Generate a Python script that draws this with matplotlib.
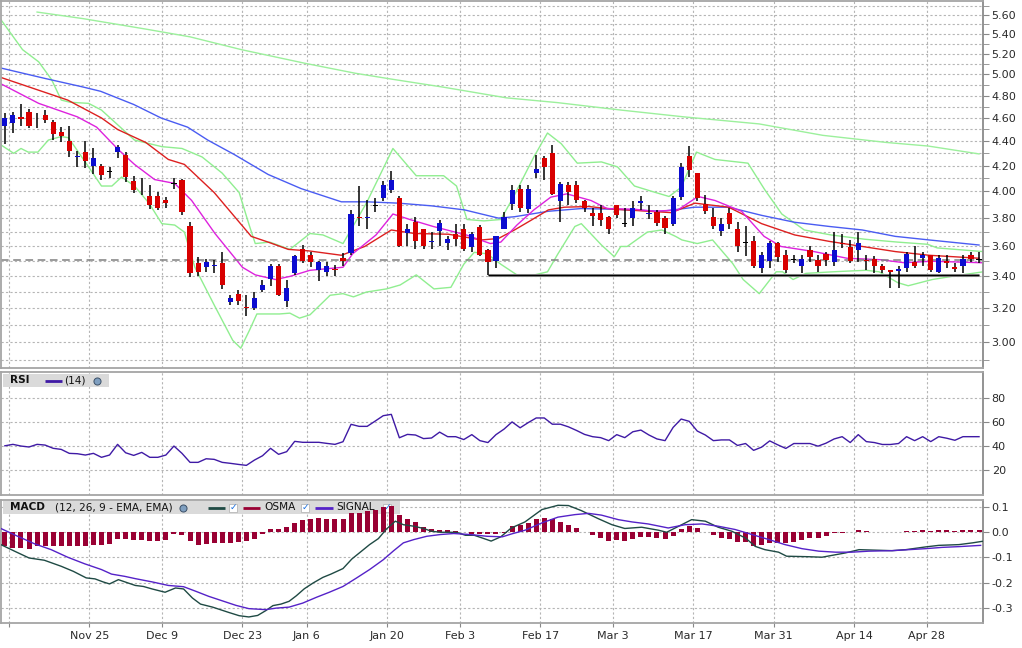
import numpy as np
import pandas as pd
import matplotlib
matplotlib.use('Agg')
import matplotlib.pyplot as plt
from matplotlib.patches import Rectangle
from matplotlib.ticker import FixedLocator, NullFormatter

# ---------------- data ----------------
holidays = ['2013-11-28', '2013-12-25', '2014-01-01', '2014-01-20', '2014-02-17', '2014-04-18']
grid_dates = ['2013-11-11', '2013-11-25', '2013-12-09', '2013-12-23', '2014-01-06', '2014-01-20',
              '2014-02-03', '2014-02-17', '2014-03-03', '2014-03-17', '2014-03-31', '2014-04-14',
              '2014-04-28']
grid_labels = ['', 'Nov 25', 'Dec 9', 'Dec 23', 'Jan 6', 'Jan 20', 'Feb 3', 'Feb 17', 'Mar 3',
               'Mar 17', 'Mar 31', 'Apr 14', 'Apr 28']

opens = [4.53, 4.555, 4.61, 4.655, 4.60, 4.625, 4.565, 4.475, 4.40, 4.27,
         4.31, 4.20, 4.20, 4.155, 4.31, 4.29, 4.08, 4.04, 3.96, 3.96,
         3.93, 4.06, 4.09, 3.74, 3.49, 3.46, 3.47, 3.49, 3.235, 3.29,
         3.21, 3.20, 3.31, 3.385, 3.47, 3.245, 3.425, 3.58, 3.54, 3.44,
         3.43, 3.45, 3.52, 3.555, 3.81, 3.80, 3.89, 3.95, 4.01, 3.95,
         3.695, 3.77, 3.72, 3.63, 3.705, 3.625, 3.69, 3.725, 3.595, 3.735,
         3.575, 3.50, 3.725, 3.905, 4.02, 3.87, 4.14, 4.26, 4.305, 3.925,
         4.045, 4.045, 3.925, 3.84, 3.835, 3.81, 3.895, 3.76, 3.80, 3.91,
         3.83, 3.845, 3.80, 3.755, 3.955, 4.275, 4.14, 3.905, 3.81, 3.71,
         3.84, 3.72, 3.625, 3.64, 3.455, 3.50, 3.625, 3.545, 3.51, 3.465,
         3.575, 3.51, 3.55, 3.495, 3.625, 3.595, 3.575, 3.51, 3.515, 3.47,
         3.44, 3.435, 3.455, 3.495, 3.52, 3.54, 3.43, 3.50, 3.46, 3.465,
         3.545, 3.51]
highs = [4.64, 4.655, 4.72, 4.68, 4.64, 4.67, 4.585, 4.52, 4.53, 4.32,
         4.40, 4.34, 4.21, 4.19, 4.37, 4.31, 4.12, 4.10, 4.05, 3.995,
         3.955, 4.10, 4.095, 3.77, 3.53, 3.515, 3.51, 3.56, 3.28, 3.315,
         3.28, 3.30, 3.38, 3.48, 3.48, 3.38, 3.54, 3.61, 3.56, 3.50,
         3.495, 3.475, 3.555, 3.86, 4.04, 3.935, 3.95, 4.08, 4.16, 3.96,
         3.76, 3.81, 3.725, 3.70, 3.785, 3.67, 3.755, 3.755, 3.70, 3.75,
         3.58, 3.675, 3.845, 4.05, 4.05, 4.05, 4.285, 4.28, 4.37, 4.07,
         4.07, 4.08, 3.93, 3.875, 3.90, 3.815, 3.90, 3.875, 3.925, 3.96,
         3.90, 3.86, 3.815, 3.96, 4.225, 4.36, 4.145, 3.97, 3.875, 3.80,
         3.875, 3.77, 3.745, 3.675, 3.56, 3.635, 3.63, 3.575, 3.54, 3.54,
         3.60, 3.545, 3.56, 3.70, 3.69, 3.645, 3.70, 3.54, 3.535, 3.48,
         3.445, 3.47, 3.565, 3.60, 3.565, 3.545, 3.545, 3.54, 3.49, 3.54,
         3.56, 3.56]
lows = [4.38, 4.47, 4.53, 4.51, 4.51, 4.555, 4.41, 4.395, 4.27, 4.19,
        4.18, 4.135, 4.085, 4.10, 4.26, 4.07, 3.99, 3.97, 3.87, 3.86,
        3.875, 4.02, 3.82, 3.395, 3.40, 3.43, 3.42, 3.32, 3.22, 3.22,
        3.15, 3.19, 3.30, 3.34, 3.275, 3.21, 3.41, 3.49, 3.46, 3.37,
        3.40, 3.40, 3.47, 3.545, 3.745, 3.72, 3.845, 3.925, 3.99, 3.595,
        3.605, 3.58, 3.58, 3.58, 3.60, 3.575, 3.60, 3.57, 3.56, 3.535,
        3.41, 3.455, 3.725, 3.86, 3.845, 3.835, 4.105, 4.09, 3.97, 3.775,
        3.895, 3.91, 3.845, 3.74, 3.74, 3.69, 3.80, 3.735, 3.745, 3.86,
        3.795, 3.745, 3.69, 3.745, 3.93, 4.11, 3.925, 3.83, 3.72, 3.675,
        3.72, 3.56, 3.535, 3.455, 3.42, 3.455, 3.495, 3.42, 3.49, 3.425,
        3.495, 3.43, 3.47, 3.47, 3.59, 3.49, 3.495, 3.445, 3.425, 3.425,
        3.325, 3.325, 3.43, 3.455, 3.47, 3.43, 3.425, 3.455, 3.43, 3.425,
        3.495, 3.49]
closes = [4.60, 4.625, 4.59, 4.53, 4.60, 4.585, 4.465, 4.445, 4.32, 4.28,
          4.235, 4.26, 4.125, 4.155, 4.35, 4.11, 4.01, 4.04, 3.90, 3.875,
          3.91, 4.06, 3.845, 3.42, 3.43, 3.495, 3.475, 3.345, 3.265, 3.245,
          3.20, 3.265, 3.345, 3.47, 3.28, 3.325, 3.535, 3.50, 3.495, 3.495,
          3.47, 3.44, 3.50, 3.83, 3.80, 3.81, 3.89, 4.05, 4.09, 3.605,
          3.725, 3.635, 3.605, 3.64, 3.765, 3.65, 3.655, 3.58, 3.69, 3.54,
          3.495, 3.67, 3.81, 4.01, 3.875, 4.02, 4.175, 4.19, 3.98, 4.055,
          3.995, 3.93, 3.875, 3.815, 3.79, 3.72, 3.82, 3.76, 3.875, 3.925,
          3.84, 3.765, 3.73, 3.95, 4.19, 4.165, 3.95, 3.85, 3.745, 3.755,
          3.755, 3.605, 3.625, 3.465, 3.54, 3.625, 3.525, 3.44, 3.51, 3.515,
          3.525, 3.47, 3.51, 3.575, 3.615, 3.50, 3.625, 3.50, 3.47, 3.44,
          3.43, 3.45, 3.55, 3.47, 3.545, 3.44, 3.52, 3.49, 3.45, 3.515,
          3.515, 3.51]

# moving averages / bands: (position in trading days, price)
ma_blue = [(-0.5, 5.06), (5, 4.96), (9.7, 4.88), (11.9, 4.84), (16, 4.72), (19.4, 4.60),
           (22.7, 4.52), (25.2, 4.41), (28.5, 4.29), (32.7, 4.13), (36.8, 4.02), (41.8, 3.92),
           (45, 3.92), (48.9, 3.91), (53, 3.89), (57.1, 3.86), (61.3, 3.80), (63.3, 3.81),
           (67.5, 3.85), (71.6, 3.87), (75.7, 3.865), (81.6, 3.85), (85.7, 3.88), (89.9, 3.88),
           (94, 3.82), (98.1, 3.77), (102.4, 3.74), (106.5, 3.715), (110.6, 3.67),
           (114.8, 3.645), (121, 3.61)]
ma_red = [(-0.5, 4.97), (4.2, 4.85), (7.8, 4.76), (12, 4.60), (14, 4.50), (17.5, 4.39),
          (20.3, 4.25), (22.3, 4.21), (26.0, 3.99), (30.6, 3.67), (32.7, 3.63), (35.2, 3.58),
          (37.7, 3.57), (41.8, 3.54), (44.7, 3.60), (48.0, 3.715), (50.9, 3.69), (55.1, 3.685),
          (59.2, 3.645), (61.3, 3.655), (63.3, 3.715), (65.4, 3.786), (67.5, 3.86),
          (69.5, 3.88), (72.5, 3.885), (75.7, 3.865), (80.0, 3.85), (82.8, 3.84), (85.7, 3.91),
          (89.9, 3.88), (94.0, 3.76), (98.1, 3.68), (102.4, 3.635), (106.5, 3.60),
          (110.6, 3.565), (114.8, 3.54), (121, 3.52)]
ma_magenta = [(-0.5, 4.91), (4.2, 4.73), (9, 4.61), (11.4, 4.52), (14.1, 4.33), (16.1, 4.21),
              (18.6, 4.09), (21.1, 4.06), (23.2, 3.93), (26.1, 3.69), (29.5, 3.46), (31.1, 3.41),
              (33.6, 3.38), (35.4, 3.40), (37.9, 3.44), (42, 3.46), (43.2, 3.55), (46.1, 3.68),
              (48.2, 3.83), (50.3, 3.79), (53.2, 3.74), (57.3, 3.68), (60.3, 3.62), (61.6, 3.63),
              (63.6, 3.75), (65.7, 3.86), (67.8, 3.955), (69.8, 3.98), (72.8, 3.93),
              (74.8, 3.87), (78.2, 3.865), (80.7, 3.85), (83.6, 3.86), (86.1, 3.96),
              (88.2, 3.93), (91.5, 3.85), (94.3, 3.67), (96.4, 3.60), (100.5, 3.565),
              (104.6, 3.52), (108.8, 3.51), (111.7, 3.49), (115.1, 3.50), (121.3, 3.49)]
bb_upper = [(-0.5, 5.55), (2.2, 5.24), (4.2, 5.12), (5.8, 4.95), (7, 4.76), (8.1, 4.74),
            (10.4, 4.73), (12, 4.67), (16.1, 4.41), (19.5, 4.355), (22, 4.34), (24.5, 4.27),
            (27, 4.14), (29.1, 3.99), (30.4, 3.74), (31.1, 3.62), (32.9, 3.63), (35.4, 3.58),
            (37.9, 3.69), (39.5, 3.68), (42, 3.62), (44.9, 3.91), (48.2, 4.34), (51.1, 4.12),
            (54.5, 4.12), (56.1, 4.04), (57.4, 3.79), (59.5, 3.78), (61.6, 3.79), (63.2, 3.96),
            (65.7, 4.27), (67.4, 4.47), (69.1, 4.38), (71.1, 4.22), (74.1, 4.23), (76.1, 4.19),
            (78.2, 4.04), (80.3, 4.00), (82.5, 3.96), (84, 4.03), (85.9, 4.31), (88.2, 4.25),
            (92.3, 4.22), (94.4, 4.01), (96.5, 3.83), (99.3, 3.715), (102.6, 3.68),
            (106.8, 3.65), (110.9, 3.63), (114.6, 3.615), (115.8, 3.59), (121.5, 3.565)]
bb_lower = [(-0.5, 4.37), (1.1, 4.30), (2, 4.34), (2.9, 4.31), (4.1, 4.31), (5.4, 4.41),
            (7, 4.44), (7.9, 4.43), (10.4, 4.19), (12, 4.04), (13.3, 4.04), (14.5, 4.11),
            (16.1, 4.04), (17.9, 3.91), (19.5, 3.76), (21.1, 3.75), (22.3, 3.70), (23.6, 3.46),
            (26.1, 3.21), (28.3, 3.01), (29.3, 2.965), (30.4, 3.07), (31.3, 3.165),
            (34.1, 3.165), (35.4, 3.17), (36.6, 3.14), (37.9, 3.16), (40.4, 3.28), (42, 3.29),
            (43.3, 3.27), (44.9, 3.30), (47.4, 3.32), (49.1, 3.345), (51.1, 3.41), (53.3, 3.32),
            (55.4, 3.33), (57, 3.48), (58.3, 3.56), (59.9, 3.55), (61.6, 3.48), (63.6, 3.41),
            (65.8, 3.41), (67.4, 3.43), (68.7, 3.55), (70.8, 3.74), (71.6, 3.76), (74.1, 3.61),
            (75.7, 3.53), (76.5, 3.60), (77.3, 3.60), (79.8, 3.70), (81.6, 3.715), (83.3, 3.67),
            (84.1, 3.645), (86, 3.62), (87.9, 3.645), (90.4, 3.485), (91.7, 3.38), (93.7, 3.29),
            (95.8, 3.43), (96.6, 3.43), (97.9, 3.38), (99.5, 3.42), (102.8, 3.43),
            (104.8, 3.435), (107, 3.44), (108.6, 3.43), (110.9, 3.36), (112.2, 3.34),
            (115.2, 3.38), (117.6, 3.40), (121.5, 3.43)]
ma_long = [(4.0, 5.63), (9.7, 5.56), (17.5, 5.45), (23, 5.37), (29.4, 5.24), (37.2, 5.107),
           (43.5, 5.01), (48.1, 4.953), (54.5, 4.878), (62.3, 4.78), (68.6, 4.737), (76.5, 4.67),
           (84.3, 4.61), (93.7, 4.548), (101.6, 4.45), (109.5, 4.39), (114.7, 4.36), (121, 4.295)]
last_price = 3.51
support_level = 3.41
support_start = 60

rsi = [40.2, 41.4, 40.0, 39.2, 41.4, 40.8, 38.1, 37.2, 33.9, 33.6,
       32.5, 33.9, 30.6, 32.5, 41.4, 34.4, 32.2, 34.7, 30.6, 30.6,
       32.5, 40.0, 33.9, 26.4, 26.4, 29.4, 28.9, 26.4, 25.6, 24.7,
       23.9, 28.3, 31.9, 38.1, 33.1, 35.3, 43.9, 43.1, 43.1, 43.1,
       42.2, 41.4, 43.6, 58.1, 56.4, 56.4, 60.8, 65.3, 66.4, 46.9,
       49.7, 49.2, 46.2, 46.7, 51.6, 47.8, 47.8, 45.4, 49.5, 44.5,
       42.9, 49.5, 54.1, 60.1, 55.2, 59.5, 63.4, 63.4, 58.2, 58.2,
       56.0, 53.0, 49.7, 47.8, 47.0, 44.5, 49.5, 47.0, 51.9, 53.3,
       49.2, 45.9, 44.5, 55.5, 62.5, 60.6, 52.5, 49.2, 44.5, 45.1,
       45.1, 40.5, 42.1, 36.4, 39.1, 44.3, 41.0, 38.0, 42.1, 42.1,
       42.1, 39.9, 42.4, 45.9, 47.8, 42.9, 49.5, 43.7, 42.9, 41.3,
       41.3, 42.1, 47.8, 44.5, 47.8, 43.7, 47.8, 46.5, 44.8, 47.8,
       47.8, 47.8]

osma = [-0.053, -0.062, -0.062, -0.065, -0.053, -0.053, -0.053, -0.053, -0.053, -0.053,
        -0.053, -0.049, -0.049, -0.045, -0.025, -0.025, -0.029, -0.029, -0.033, -0.033,
        -0.029, -0.005, -0.012, -0.036, -0.049, -0.045, -0.042, -0.042, -0.042, -0.040,
        -0.036, -0.025, -0.007, 0.011, 0.011, 0.021, 0.037, 0.050, 0.054, 0.056,
        0.054, 0.054, 0.054, 0.077, 0.077, 0.083, 0.090, 0.099, 0.103, 0.070,
        0.054, 0.040, 0.021, 0.011, 0.008, 0.008, 0.004, 0.001, -0.007, -0.007,
        -0.007, -0.008, -0.002, 0.024, 0.030, 0.037, 0.053, 0.057, 0.053, 0.041,
        0.029, 0.017, 0.001, -0.009, -0.023, -0.033, -0.029, -0.033, -0.025, -0.019,
        -0.019, -0.023, -0.025, -0.013, 0.011, 0.026, 0.017, 0.001, -0.009, -0.023,
        -0.025, -0.038, -0.038, -0.053, -0.049, -0.042, -0.042, -0.042, -0.038, -0.029,
        -0.023, -0.023, -0.013, -0.004, -0.001, 0.001, 0.008, 0.005, 0.001, 0.0,
        0.0, 0.0, 0.005, 0.005, 0.009, 0.005, 0.009, 0.009, 0.005, 0.009,
        0.009, 0.009]
macd_line = [(-0.5, -0.049), (1.2, -0.075), (3, -0.102), (4.9, -0.111), (7, -0.135),
             (8.5, -0.155), (10.1, -0.181), (11.2, -0.185), (12.2, -0.197), (13.0, -0.205),
             (14.1, -0.188), (15.1, -0.199), (16.2, -0.211), (17.2, -0.215), (18.3, -0.225),
             (19.9, -0.238), (21.2, -0.221), (22.2, -0.225), (23.3, -0.261), (24.3, -0.285),
             (25.8, -0.297), (27.8, -0.318), (29.1, -0.331), (30.3, -0.336), (31.4, -0.330),
             (32.4, -0.311), (33.3, -0.291), (34.3, -0.285), (35.3, -0.274), (36.2, -0.252),
             (37.2, -0.224), (38.3, -0.201), (39.5, -0.179), (40.5, -0.166), (42, -0.144),
             (43.1, -0.106), (44.3, -0.075), (45.3, -0.049), (46.4, -0.025), (47.4, 0.013),
             (48.5, 0.044), (49.5, 0.030), (50.8, 0.024), (52, 0.015), (53, 0.004),
             (54.1, 0.0), (55.3, 0.0), (56.2, -0.001), (57.2, -0.012), (58.3, -0.012),
             (59.5, -0.025), (60.4, -0.035), (61.6, -0.018), (62.9, 0.017), (64.6, 0.041),
             (66.7, 0.090), (68.7, 0.107), (70, 0.106), (71.6, 0.086), (73.7, 0.054),
             (75.4, 0.030), (77, 0.015), (79.1, 0.020), (81.2, 0.008), (82.2, 0.0),
             (83.7, 0.024), (85.3, 0.050), (87, 0.044), (88.6, 0.020), (90.3, 0.004),
             (92, -0.023), (93.2, -0.056), (94.4, -0.069), (96.1, -0.079), (97.1, -0.095),
             (99.8, -0.097), (101.5, -0.099), (103.2, -0.089), (104.4, -0.082), (106.1, -0.069),
             (110.2, -0.073), (111.9, -0.069), (114.4, -0.058), (116, -0.052), (118.5, -0.049),
             (120.2, -0.042), (121.4, -0.036)]
signal_line = [(-0.5, 0.015), (1.6, -0.016), (3.7, -0.046), (5.75, -0.069), (7.8, -0.099),
               (9.9, -0.125), (12, -0.148), (13.25, -0.166), (14.9, -0.175), (16.2, -0.184),
               (18.3, -0.197), (20.3, -0.211), (22.2, -0.216), (23.7, -0.234), (25.3, -0.254),
               (27, -0.272), (28.7, -0.290), (30.3, -0.303), (32.4, -0.307), (33.7, -0.301),
               (35.3, -0.297), (37, -0.281), (38.7, -0.258), (40.3, -0.238), (42, -0.215),
               (43.7, -0.181), (45.3, -0.148), (47, -0.109), (48.3, -0.073), (49.5, -0.042),
               (50.8, -0.029), (52.4, -0.016), (54.1, -0.009), (55.75, -0.005), (57.8, -0.009),
               (59.9, -0.016), (61.8, -0.018), (62.9, -0.007), (64.6, 0.008), (66.7, 0.037),
               (68.7, 0.060), (70.8, 0.070), (72.5, 0.075), (74.1, 0.068), (76.2, 0.050),
               (77.9, 0.041), (79.9, 0.033), (82.4, 0.017), (84.5, 0.030), (86.6, 0.033),
               (88.6, 0.024), (90.7, 0.011), (92.8, -0.009), (94.9, -0.029), (96.9, -0.049),
               (99, -0.065), (101.1, -0.075), (103.2, -0.079), (105.2, -0.079), (107.3, -0.075),
               (110.2, -0.073), (112.3, -0.069), (114.4, -0.065), (116.4, -0.060),
               (118.5, -0.057), (121.2, -0.052)]

price_ticks = [3.0, 3.2, 3.4, 3.6, 3.8, 4.0, 4.2, 4.4, 4.6, 4.8, 5.0, 5.2, 5.4, 5.6]
price_minor = [2.9, 3.1, 3.3, 3.5, 3.7, 3.9, 4.1, 4.3, 4.5, 4.7, 4.9, 5.1, 5.3, 5.5, 5.7]
rsi_ticks = [20, 40, 60, 80]
macd_ticks = [-0.3, -0.2, -0.1, 0.0, 0.1]
macd_tick_labels = ['-0.3', '-0.2', '-0.1', '0.0', '0.1']

# ---------------- figure ----------------
W, H = 1022, 648
PW = 983.3
fig = plt.figure(figsize=(W / 100, H / 100), dpi=100)
fig.patch.set_facecolor('white')

def panel(top, bottom):
    return fig.add_axes([0.6 / W, 1 - bottom / H, (PW - 0.6) / W, (bottom - top) / H])

P_MAIN = (1, 368)
P_RSI = (372, 495)
P_MACD = (500, 623)
ax = panel(*P_MAIN)
axr = panel(*P_RSI)
axm = panel(*P_MACD)

dates = pd.bdate_range('2013-11-08', '2014-05-06')
dates = dates[~dates.isin(pd.to_datetime(holidays))]
x = np.arange(len(dates))
grid_pos = dates.searchsorted(pd.to_datetime(grid_dates)) - 0.5

GRID_COL = '#b5b5b5'
SPINE_COL = '#a5a5a5'
TXT_COL = '#2a2a2a'
for a in (ax, axr, axm):
    a.set_xlim(-0.53, 121.53)
    a.set_xticks(grid_pos)
    a.set_facecolor('white')
    a.set_axisbelow(True)
    a.yaxis.tick_right()
    a.grid(True, which='both', color=GRID_COL, linestyle=(0, (2, 2)), linewidth=0.8)
    a.tick_params(axis='y', which='both', length=4, color='#888888', labelsize=8,
                  labelcolor=TXT_COL, pad=2, right=True, left=False)
    for s in a.spines.values():
        s.set_color(SPINE_COL)
        s.set_linewidth(1.3)
    a.spines['right'].set_color('#8a8a8a')
for a in (ax, axr):
    a.tick_params(axis='x', length=0, labelbottom=False)
axm.set_xticklabels(grid_labels)
axm.tick_params(axis='x', length=3, color='#888888', labelsize=8, labelcolor=TXT_COL, pad=3)

# ---- main price panel ----
ax.set_yscale('log')
ax.set_ylim(2.855, 5.75)
ax.yaxis.set_major_locator(FixedLocator(price_ticks))
ax.yaxis.set_minor_locator(FixedLocator(price_minor))
ax.set_yticklabels([f'{v:.2f}' for v in price_ticks])
ax.yaxis.set_minor_formatter(NullFormatter())

def draw_line(axis, pts, color, lw=1.0, z=2):
    px, py = zip(*pts)
    axis.plot(px, py, color=color, lw=lw, zorder=z, solid_joinstyle='round')

draw_line(ax, ma_long, '#9cf09c', 1.0)
draw_line(ax, bb_upper, '#90ee90', 1.0)
draw_line(ax, bb_lower, '#90ee90', 1.0)
draw_line(ax, ma_blue, '#4a5cf2', 1.0)
draw_line(ax, ma_red, '#dd2020', 1.0)
draw_line(ax, ma_magenta, '#dd22dd', 1.0)

ax.axhline(last_price, color='#808080', lw=1.1, linestyle=(0, (5, 3)), zorder=2.2)
ax.plot([support_start, x[-1]], [support_level, support_level], color='#9a9a9a', lw=2.2,
        zorder=2.3, solid_capstyle='butt')
ax.plot([support_start, x[-1]], [support_level, support_level], color='black', lw=1.0,
        zorder=2.4, solid_capstyle='butt')

o = np.array(opens); c = np.array(closes)
hi = np.array(highs); lo = np.array(lows)
cols = np.where(c > o, '#0c0cd0', np.where(c < o, '#d80000', '#000000'))
ax.vlines(x, lo, hi, color='black', lw=1.1, zorder=3)
body_lo = np.minimum(o, c)
body_h = np.abs(c - o)
doji = body_h < 0.006
body_lo = np.where(doji, (o + c) / 2 - 0.003, body_lo)
body_h = np.where(doji, 0.006, body_h)
ax.bar(x, body_h, 0.64, bottom=body_lo, color=cols, linewidth=0, zorder=4)

# ---- RSI panel ----
RSI_COL = '#3f1aa5'
axr.plot(x, rsi, color=RSI_COL, lw=1.0, zorder=3)
axr.set_ylim(-0.8, 101.7)
axr.set_yticks(rsi_ticks)
axr.set_yticklabels([str(v) for v in rsi_ticks])

# ---- MACD panel ----
MACD_COL = '#1f4a44'
SIG_COL = '#5522c8'
OSMA_COL = '#990033'
axm.bar(x, osma, 0.62, color=OSMA_COL, linewidth=0, zorder=3)
draw_line(axm, macd_line, MACD_COL, 1.0, z=4)
draw_line(axm, signal_line, SIG_COL, 1.0, z=4)
axm.set_ylim(-0.36, 0.128)
axm.set_yticks(macd_ticks)
axm.set_yticklabels(macd_tick_labels)

# ---- legends ----
def to_ax(p, px, py):
    top, bot = p
    return px / PW, (bot - py) / (bot - top)

def legend_box(a, p, x0, y0, x1, y1, z):
    ax0, ay1 = to_ax(p, x0, y1)
    ax1, ay0 = to_ax(p, x1, y0)
    a.add_patch(Rectangle((ax0, ay1), ax1 - ax0, ay0 - ay1, transform=a.transAxes,
                          facecolor='#dadada', edgecolor='none', zorder=z, clip_on=False))

def legend_text(a, p, px, py, s, z, bold=False):
    tx, ty = to_ax(p, px, py)
    a.text(tx, ty, s, transform=a.transAxes, ha='left', va='center', fontsize=7.6,
           color='#111111', fontweight='bold' if bold else 'normal', zorder=z)

def legend_line(a, p, px0, px1, py, color, z):
    u0, v = to_ax(p, px0, py)
    u1, _ = to_ax(p, px1, py)
    a.plot([u0, u1], [v, v], color=color, lw=2.0, transform=a.transAxes, zorder=z,
           solid_capstyle='butt', clip_on=False)

def globe(a, p, px, py, z):
    u, v = to_ax(p, px, py)
    a.scatter([u], [v], s=26, c='#7f9fc0', edgecolors='#3b4f66', linewidths=0.7,
              transform=a.transAxes, zorder=z, clip_on=False)

def checkbox(a, p, px, py, z):
    u, v = to_ax(p, px, py)
    a.scatter([u], [v], s=34, marker='s', c='white', edgecolors='#b8b8b8', linewidths=0.6,
              transform=a.transAxes, zorder=z, clip_on=False)
    a.text(u, v, '\u2713', transform=a.transAxes, ha='center', va='center', fontsize=6.5,
           color='#1a6fe0', fontweight='bold', zorder=z + 0.01)

legend_box(axr, P_RSI, 2, 374, 108, 387, 2.5)
legend_text(axr, P_RSI, 9, 380.5, 'RSI', 2.6, bold=True)
legend_line(axr, P_RSI, 44, 61, 380.5, RSI_COL, 2.6)
legend_text(axr, P_RSI, 64, 380.5, '(14)', 2.6)
globe(axr, P_RSI, 96, 380.5, 2.7)

legend_box(axm, P_MACD, 2, 501, 400, 514, 2.5)
legend_text(axm, P_MACD, 9, 507.5, 'MACD', 2.6, bold=True)
legend_text(axm, P_MACD, 54, 507.5, '(12, 26, 9 - EMA, EMA)', 2.6)
globe(axm, P_MACD, 183, 507.5, 2.7)
legend_line(axm, P_MACD, 208, 225, 507.5, MACD_COL, 2.6)
checkbox(axm, P_MACD, 233, 507.5, 2.7)
legend_line(axm, P_MACD, 243, 260, 507.5, OSMA_COL, 2.6)
legend_text(axm, P_MACD, 264, 507.5, 'OSMA', 2.6)
checkbox(axm, P_MACD, 305, 507.5, 2.7)
legend_line(axm, P_MACD, 315, 333, 507.5, SIG_COL, 2.6)
legend_text(axm, P_MACD, 336, 507.5, 'SIGNAL', 2.6)
checkbox(axm, P_MACD, 387, 507.5, 2.7)

fig.savefig('out.png', dpi=100, facecolor='white')
